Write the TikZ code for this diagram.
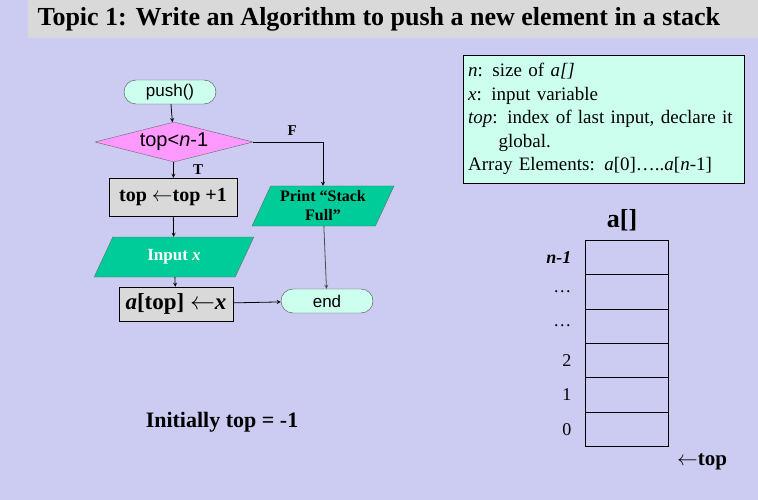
\documentclass[tikz,border=0pt]{standalone}
\usepackage{fontspec}
\setmainfont{Liberation Serif}
\newfontfamily\sansf{Liberation Sans}
\usetikzlibrary{shapes.geometric, arrows, calc, positioning}
\definecolor{bgc}{HTML}{CCCCF2}
\definecolor{mint}{HTML}{CCFFEE}
\definecolor{sea}{HTML}{00CC99}
\definecolor{pinkv}{HTML}{FF99FF}
\tikzstyle{term} = [rectangle, rounded corners=12pt, minimum width=92pt, minimum height=24pt, draw=black!70, fill=mint, font=\fontsize{17}{17}\sansf]
\tikzstyle{proc} = [rectangle, draw=black, fill=gray!30, inner sep=0pt, font=\fontsize{20}{20}\bfseries]
\tikzstyle{io} = [trapezium, trapezium left angle=65, trapezium right angle=115, draw=black!60, fill=sea, minimum height=40pt, inner sep=2pt, font=\fontsize{17}{19}\bfseries, align=center]
\tikzstyle{arrow} = [->, >=stealth, thick]
\tikzstyle{cell} = [rectangle, draw=black, minimum width=83pt, minimum height=34.4pt, inner sep=0pt]
\begin{document}
\begin{tikzpicture}[x=1pt, y=-1pt, >=stealth]
      \fill[bgc] (0,0) rectangle (758,500);
      \fill[gray!30] (28,0) rectangle (758,38);
      \node[anchor=west, font=\fontsize{26}{26}\bfseries] (title) at (34,19) {Topic 1: Write an Algorithm to push a new element in a stack};

      % flowchart
      \node (push) [term] at (170,92) {push()};
      \node (test) [diamond, aspect=4, draw=black!60, fill=pinkv, minimum width=158pt, minimum height=40pt, inner sep=0pt, font=\fontsize{20}{20}\sansf] at (174,142) {top<\textit{n}-1};
      \node (inc) [proc, minimum width=128pt, minimum height=38pt] at (173,197) {top $\leftarrow$top +1};
      \node (inp) [io, text=white, minimum width=110pt] at (174,257) {Input \textit{x}};
      \node (asg) [proc, minimum width=114pt, minimum height=34pt, font=\fontsize{23}{23}\bfseries] at (176,304) {\textit{a}[top] $\leftarrow$\textit{x}};
      \node (fin) [term] at (327,301) {end};
      \node (full) [io, minimum width=130pt, font=\fontsize{16}{19}\bfseries] at (323,206) {Print ``Stack\\Full''};

      \draw [arrow] (push) -- (test);
      \draw [arrow] (test) -- node[pos=0.5, right=16pt, font=\fontsize{15}{15}\bfseries] {T} (inc);
      \draw [arrow] (inc) -- (inp);
      \draw [arrow] (inp) -- (asg);
      \draw [arrow] (asg) -- (fin);
      \draw [arrow] (test.east) -| node[pos=0.28, above=3pt, font=\fontsize{15}{15}\bfseries] {F} (full.north);
      \draw [arrow, black!70] (full) -- (fin);

      \node (init) [font=\fontsize{22}{22}\bfseries] at (222,422) {Initially top = -1};

      % legend
      \node (info) [draw=black, fill=mint, anchor=north west, minimum width=281pt, minimum height=128pt, align=left, text width=271pt, inner sep=5pt, font=\fontsize{19}{23.5}\selectfont] at (463,55)
        {\textit{n}: size of \textit{a[]}\\ \textit{x}: input variable\\ \textit{top}: index of last input, declare it\\ \hspace*{1.6em}global.\\ Array Elements: \textit{a}[0]\dots..\textit{a}[\textit{n}-1]};

      % stack array
      \node (arr) [font=\fontsize{26}{26}\bfseries] at (622,220) {a[]};
      \foreach \lbl [count=\i from 0] in {\textbf{\textit{n-1}},\dots,\dots,2,1,0} {
        \node (c\i) [cell] at (626.5,257.2+\i*34.4) {};
        \node [left=10pt of c\i, font=\fontsize{18}{18}\selectfont] {\lbl};
      }
      \node (ptr) [font=\fontsize{21}{21}\bfseries] at (702,462) {$\leftarrow$top};
\end{tikzpicture}
\end{document}
